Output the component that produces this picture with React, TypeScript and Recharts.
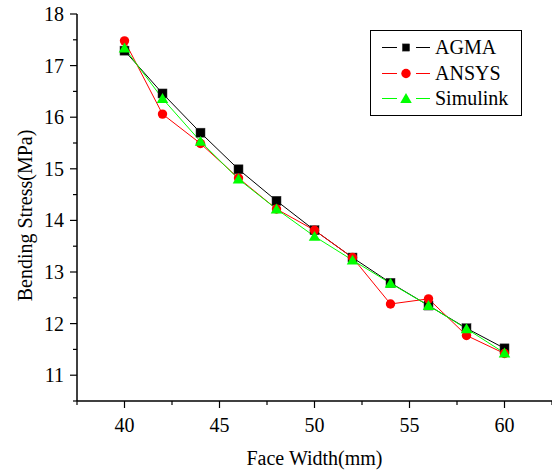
import { LineChart, Line, XAxis, YAxis } from 'recharts'

const faceWidth = [40, 42, 44, 46, 48, 50, 52, 54, 56, 58, 60]
const agma = [17.29, 16.46, 15.7, 14.99, 14.38, 13.81, 13.28, 12.79, 12.35, 11.91, 11.52]
const ansys = [17.48, 16.06, 15.49, 14.82, 14.22, 13.81, 13.28, 12.38, 12.48, 11.77, 11.42]
const simulink = [17.34, 16.36, 15.53, 14.8, 14.22, 13.69, 13.23, 12.78, 12.35, 11.9, 11.43]

const xTicks = [37.5, 40, 42.5, 45, 47.5, 50, 52.5, 55, 57.5, 60, 62.5]
const yTicks = [10.5, 11, 11.5, 12, 12.5, 13, 13.5, 14, 14.5, 15, 15.5, 16, 16.5, 17, 17.5, 18]

const FONT = '"Liberation Serif", "Times New Roman", serif'

const data = faceWidth.map((w, i) => ({
  width: w,
  agma: agma[i],
  ansys: ansys[i],
  simulink: simulink[i],
}))

const legendItems = [
  { name: 'AGMA', color: '#000000', shape: 'square' },
  { name: 'ANSYS', color: '#ff0000', shape: 'circle' },
  { name: 'Simulink', color: '#00ff00', shape: 'triangle' },
]

function marker(shape: string, color: string, cx: number, cy: number, s = 1) {
  if (shape === 'square') {
    const h = 4.5 * s
    return <rect x={cx - h} y={cy - h} width={h * 2} height={h * 2} fill={color} stroke="#333" strokeWidth={0.5} />
  }
  if (shape === 'circle') {
    return <circle cx={cx} cy={cy} r={4.7 * s} fill={color} />
  }
  const h = 5.5 * s
  return (
    <polygon
      points={`${cx},${cy - h} ${cx + h * 1.05},${cy + h * 0.8} ${cx - h * 1.05},${cy + h * 0.8}`}
      fill={color}
    />
  )
}

function XTick(props: any) {
  const { x, y, payload } = props
  const major = payload.value % 5 === 0
  return (
    <g>
      <line x1={x} y1={y} x2={x} y2={y + (major ? 7 : 4)} stroke="#000" strokeWidth={1.2} />
      {major && (
        <text x={x} y={y + 31} textAnchor="middle" fontSize={20} fontFamily={FONT} fill="#000">
          {payload.value}
        </text>
      )}
    </g>
  )
}

function YTick(props: any) {
  const { x, y, payload } = props
  const major = Number.isInteger(payload.value)
  return (
    <g>
      <line x1={x - (major ? 7 : 4)} y1={y} x2={x} y2={y} stroke="#000" strokeWidth={1.2} />
      {major && (
        <text x={x - 13} y={y + 7} textAnchor="end" fontSize={20} fontFamily={FONT} fill="#000">
          {payload.value}
        </text>
      )}
    </g>
  )
}

export default function App() {
  return (
    <div style={{ position: 'relative', width: 552, height: 471, background: '#fff' }}>
      <style>{'body{margin:0}'}</style>
      <LineChart width={552} height={471} data={data} margin={{ top: 14, right: 0, left: 0, bottom: 0 }}>
        <XAxis
          dataKey="width"
          type="number"
          domain={[37.5, 62.5]}
          ticks={xTicks}
          interval={0}
          tickSize={0}
          tickMargin={0}
          tick={<XTick />}
          height={70}
          axisLine={{ stroke: '#000', strokeWidth: 1.5 }}
          tickLine={false}
          label={(p: any) => {
            const vb = p.viewBox
            return (
              <text x={vb.x + vb.width / 2} y={465} textAnchor="middle" fontSize={20} fontFamily={FONT} fill="#000">
                Face Width(mm)
              </text>
            )
          }}
        />
        <YAxis
          type="number"
          domain={[10.5, 18]}
          ticks={yTicks}
          interval={0}
          tickSize={0}
          tickMargin={0}
          tick={<YTick />}
          width={77}
          axisLine={{ stroke: '#000', strokeWidth: 1.5 }}
          tickLine={false}
          label={(p: any) => {
            const vb = p.viewBox
            const cy = vb.y + vb.height / 2 + 8
            return (
              <text
                x={32}
                y={cy}
                transform={`rotate(-90, 32, ${cy})`}
                textAnchor="middle"
                fontSize={20}
                fontFamily={FONT}
                fill="#000"
              >
                Bending Stress(MPa)
              </text>
            )
          }}
        />
        {legendItems.map((item) => (
          <Line
            key={item.name}
            dataKey={item.name.toLowerCase()}
            stroke={item.color}
            strokeWidth={1}
            isAnimationActive={false}
            dot={(p: any) => <g key={`${item.name}-${p.index}`}>{marker(item.shape, item.color, p.cx, p.cy)}</g>}
            activeDot={false}
          />
        ))}
      </LineChart>
      <div
        style={{
          position: 'absolute',
          left: 370,
          top: 30,
          width: 150,
          height: 84,
          border: '1px solid #000',
          background: '#fff',
          fontFamily: FONT,
          fontSize: 20,
        }}
      >
        {legendItems.map((item, i) => (
          <div
            key={item.name}
            style={{ position: 'absolute', left: 0, top: 4 + i * 25.5, height: 25, display: 'flex', alignItems: 'center' }}
          >
            <svg width={64} height={25}>
              <line x1={11} y1={12.5} x2={26} y2={12.5} stroke={item.color} strokeWidth={1} />
              <line x1={45} y1={12.5} x2={59} y2={12.5} stroke={item.color} strokeWidth={1} />
              {marker(item.shape, item.color, 35, 12.5, item.shape === 'square' ? 0.8 : 1)}
            </svg>
            <span style={{ lineHeight: '25px' }}>{item.name}</span>
          </div>
        ))}
      </div>
    </div>
  )
}
